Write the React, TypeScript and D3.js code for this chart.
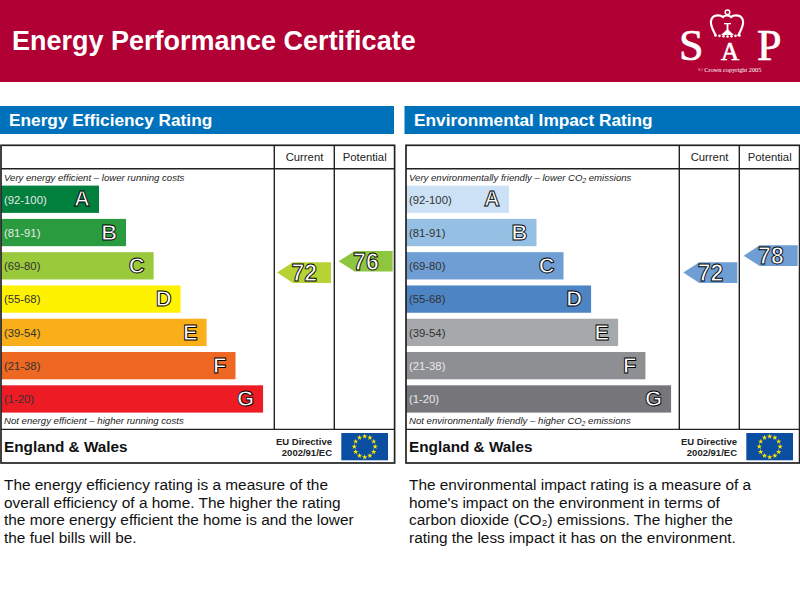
import React from 'react';
import { scaleBand, scaleLinear, symbol, symbolStar, range } from 'd3';

const letters = ['A', 'B', 'C', 'D', 'E', 'F', 'G'];
const bandLabels = ['(92-100)', '(81-91)', '(69-80)', '(55-68)', '(39-54)', '(21-38)', '(1-20)'];
// bar lengths as a percent of the rating column, they step up by band and do not encode the score
const energyBarLengths = [35.9, 45.8, 55.9, 65.8, 75.3, 85.9, 96];
const impactBarLengths = [37.7, 47.8, 57.7, 67.8, 77.7, 87.7, 97.1];

const energyColors = ['#007f3d', '#2a9c3f', '#9aca3c', '#fff200', '#f8af1a', '#ee6823', '#ed1c24'];
const impactColors = ['#cce1f5', '#95bfe3', '#6e9ed3', '#4d84c4', '#a6a8ab', '#8e8f92', '#77777b'];
const impactLabelColors = ['#333', '#333', '#333', '#333', '#333', '#e8e8e8', '#e8e8e8'];
const energyLabelColors = ['#e8e8e8', '#e8e8e8', '#333', '#333', '#333', '#333', '#333'];

const energyCurrent = 72;
const energyPotential = 76;
const impactCurrent = 72;
const impactPotential = 78;

const energyText = [
  'The energy efficiency rating is a measure of the',
  'overall efficiency of a home. The higher the rating',
  'the more energy efficient the home is and the lower',
  'the fuel bills will be.',
];
const impactText = [
  'The environmental impact rating is a measure of a',
  "home's impact on the environment in terms of",
  'carbon dioxide (CO₂) emissions. The higher the',
  'rating the less impact it has on the environment.',
];

const SANS = '"Liberation Sans", Arial, sans-serif';
const SERIF = '"Liberation Serif", serif';

// shared scales
const rowY = scaleBand<string>().domain(letters).range([185.6, 412.6]).paddingInner(0.18).paddingOuter(0);
const ratingY = scaleLinear().domain([1, 100]).range([473.5, 193.4]);
const barX = scaleLinear().domain([0, 100]).range([0, 273]);

const star = symbol().type(symbolStar).size(9)() as string;

const Flag = ({ x, y }: { x: number; y: number }) => (
  <g transform={`translate(${x},${y})`}>
    <rect width={46.7} height={27.3} fill="#0a4ea2" />
    {range(12).map((i) => {
      const a = (i / 12) * Math.PI * 2;
      return (
        <path
          key={i}
          d={star}
          fill="#ffe600"
          transform={`translate(${23.4 + Math.sin(a) * 10.4},${13.7 - Math.cos(a) * 10.4})`}
        />
      );
    })}
  </g>
);

const Arrow = ({ value, right, fill }: { value: number; right: number; fill: string }) => {
  const cy = ratingY(value);
  const h = 10.3;
  const d = `M${right - 54},${cy}L${right - 38},${cy - h}H${right}V${cy + h}H${right - 38}Z`;
  return (
    <g>
      <path d={d} fill={fill} />
      <text
        x={right - 14}
        y={cy + 8.4}
        textAnchor="end"
        fontFamily={SANS}
        fontWeight="bold"
        fontSize={23}
        fill="#fff"
        stroke="#000"
        strokeWidth={0.9}
      >
        {value}
      </text>
    </g>
  );
};

interface PanelProps {
  left: number;
  title: string;
  colors: string[];
  labelColors: string[];
  barLengths: number[];
  current: number;
  potential: number;
  currentFill: string;
  potentialFill: string;
  currentRight: number;
  potentialRight: number;
  top: React.ReactNode;
  bottom: React.ReactNode;
  body: string[];
}

const Panel = (p: PanelProps) => {
  const x0 = p.left;
  return (
    <g>
      <rect x={x0 === 0 ? 0 : x0 - 0.5} y={106} width={x0 === 0 ? 394 : 395.5} height={28} fill="#0072bc" />
      <text x={x0 + 9} y={126.3} fontFamily={SANS} fontWeight="bold" fontSize={17.25} fill="#fff">
        {p.title}
      </text>

      {letters.map((l, i) => {
        const y = rowY(l) as number;
        const w = barX(p.barLengths[i]);
        return (
          <g key={l}>
            <rect x={x0 + 1} y={y} width={w} height={rowY.bandwidth()} fill={p.colors[i]} />
            <text x={x0 + 4} y={y + 18} fontFamily={SANS} fontSize={11.3} fill={p.labelColors[i]}>
              {bandLabels[i]}
            </text>
            <text
              x={x0 + 1 + w - 9}
              y={y + 20.8}
              textAnchor="end"
              fontFamily={SANS}
              fontWeight="bold"
              fontSize={22}
              fill="#fff"
              stroke="#000"
              strokeWidth={0.9}
            >
              {l}
            </text>
          </g>
        );
      })}

      <g fill="none" stroke="#222" strokeWidth={1.4}>
        <rect x={x0 + 1} y={145.3} width={393.6} height={317.7} strokeWidth={1.7} />
        <path d={`M${x0 + 1},168.8H${x0 + 394.6}M${x0 + 1},429.4H${x0 + 394.6}`} />
        <path d={`M${x0 + 274.3},145.3V429.4M${x0 + 334.3},145.3V429.4`} />
      </g>

      <g fontFamily={SANS} fontSize={11.3} fill="#222" textAnchor="middle">
        <text x={x0 + 304.5} y={161.2}>Current</text>
        <text x={x0 + 364.7} y={161.2}>Potential</text>
      </g>

      <g fontFamily={SANS} fontStyle="italic" fontSize={9.6} fill="#222">
        <text x={x0 + 4} y={181}>{p.top}</text>
        <text x={x0 + 4} y={424.3}>{p.bottom}</text>
      </g>

      <Arrow value={p.current} right={p.currentRight} fill={p.currentFill} />
      <Arrow value={p.potential} right={p.potentialRight} fill={p.potentialFill} />

      <text x={x0 + 4} y={451.8} fontFamily={SANS} fontWeight="bold" fontSize={15.3} fill="#111">
        England &amp; Wales
      </text>
      <g fontFamily={SANS} fontWeight="bold" fontSize={9.5} fill="#222" textAnchor="end">
        <text x={x0 + 332} y={444.8}>EU Directive</text>
        <text x={x0 + 332} y={455.6}>2002/91/EC</text>
      </g>
      <Flag x={x0 + 341.3} y={433} />

      <g fontFamily={SANS} fontSize={15.4} fill="#111">
        {p.body.map((line, i) => (
          <text key={i} x={x0 + 4} y={489.8 + i * 17.8}>{line}</text>
        ))}
      </g>
    </g>
  );
};

const crownJewels = [-12, -8, -4, 0, 4, 8, 12];

const Logo = () => (
  <g fill="#fff">
    <g fontFamily={SERIF} stroke="#fff" strokeWidth={0.7}>
      <text x={679} y={60} fontSize={44}>S</text>
      <text x={721} y={60} fontSize={25}>A</text>
      <text x={757} y={60} fontSize={44}>P</text>
    </g>
    <text x={698} y={71.5} fontFamily={SERIF} fontSize={6.3}>© Crown copyright 2005</text>
    <g transform="translate(727,0)">
      <path
        d="M-11,36C-14,30 -17,25 -16,21C-15,15 -8,14 -4,17C-2,15 2,15 4,17C8,14 15,15 16,21C17,25 14,30 11,36"
        fill="none"
        stroke="#fff"
        strokeWidth={2.2}
      />
      <circle cx={0.5} cy={12.2} r={2.3} fill="none" stroke="#fff" strokeWidth={1.5} />
      <rect x={-3} y={23} width={7} height={1.3} />
      <rect x={-0.4} y={24} width={1.8} height={7} />
      <path d="M-6,35L0.5,29L7,35Z" />
      {crownJewels.map((dx) => (
        <circle key={dx} cx={dx + 0.5} cy={36.5 + Math.abs(dx) * -0.08} r={1.3} />
      ))}
    </g>
  </g>
);

const App = () => (
  <svg
    width={800}
    height={600}
    viewBox="0 0 800 600"
    style={{ position: 'absolute', left: 0, top: 0, background: '#fff' }}
  >
    <rect width={800} height={82} fill="#b10034" />
    <text x={12} y={50} fontFamily={SANS} fontWeight="bold" fontSize={27} fill="#fff">
      Energy Performance Certificate
    </text>
    <Logo />
    <Panel
      left={0}
      title="Energy Efficiency Rating"
      colors={energyColors}
      labelColors={energyLabelColors}
      barLengths={energyBarLengths}
      current={energyCurrent}
      potential={energyPotential}
      currentFill="#b5d334"
      potentialFill="#8ec63f"
      currentRight={331}
      potentialRight={392.7}
      top="Very energy efficient – lower running costs"
      bottom="Not energy efficient – higher running costs"
      body={energyText}
    />
    <Panel
      left={405}
      title="Environmental Impact Rating"
      colors={impactColors}
      labelColors={impactLabelColors}
      barLengths={impactBarLengths}
      current={impactCurrent}
      potential={impactPotential}
      currentFill="#6e9ed3"
      potentialFill="#6e9ed3"
      currentRight={737.3}
      potentialRight={797.7}
      top={<>Very environmentally friendly – lower CO<tspan fontSize={6.5} dy={1.5}>2</tspan><tspan dy={-1.5}> emissions</tspan></>}
      bottom={<>Not environmentally friendly – higher CO<tspan fontSize={6.5} dy={1.5}>2</tspan><tspan dy={-1.5}> emissions</tspan></>}
      body={impactText}
    />
  </svg>
);

export default App;
